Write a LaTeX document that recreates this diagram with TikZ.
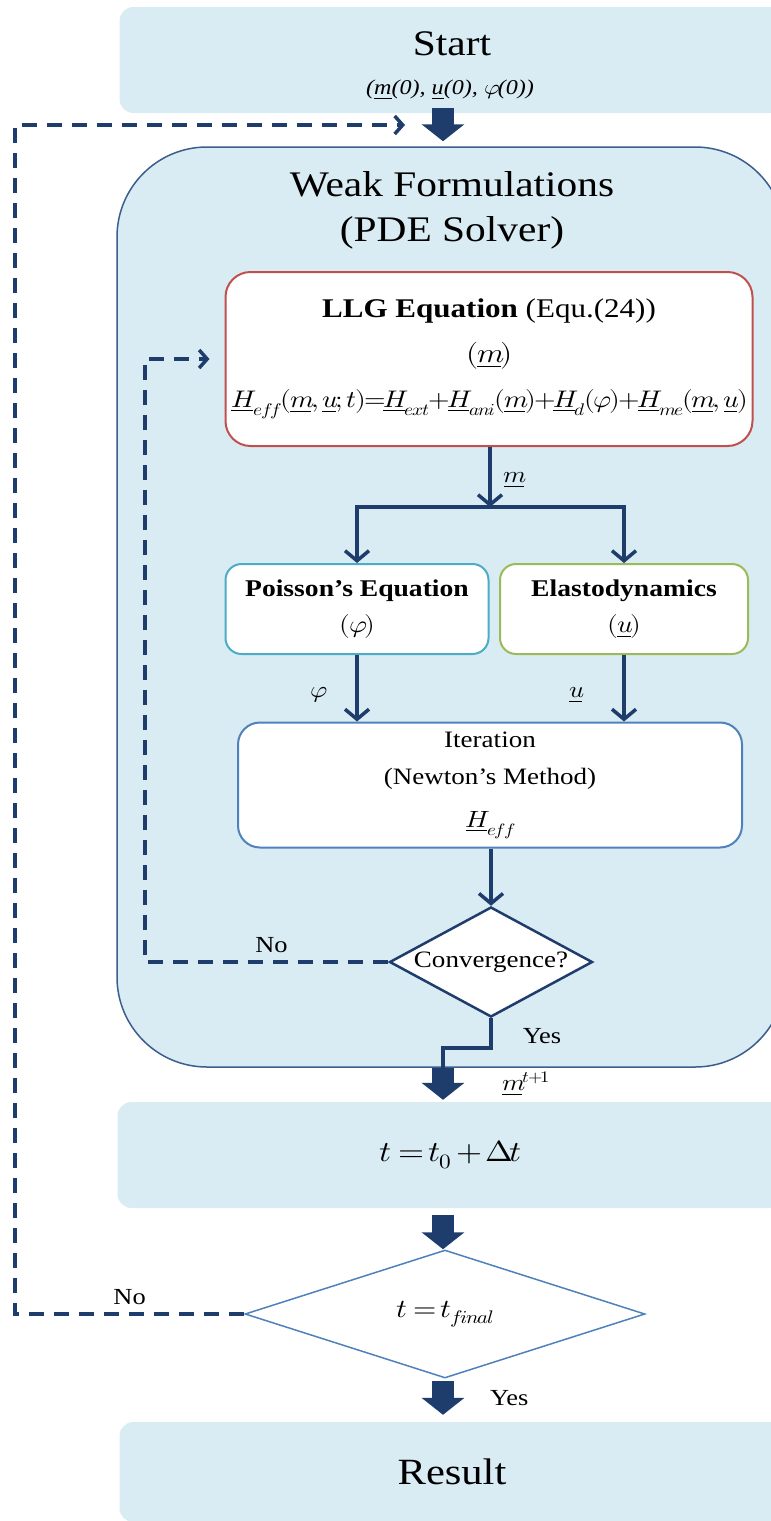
\documentclass[tikz,border=0pt]{standalone}
\usepackage{fontspec}
\usepackage{unicode-math}
\usepackage{xcolor}
\usepackage{tikz}
\usetikzlibrary{arrows.meta,shapes.geometric,positioning}
\setmainfont{Liberation Serif}[FakeStretch=1.15]
\setmathfont{latinmodern-math.otf}[FakeStretch=1.15]

\begin{document}
\begin{tikzpicture}[x=1pt, y=-1pt,
  fasebox/.style={rectangle, rounded corners=14pt, fill=colFondo, minimum width=665pt, minimum height=106pt, inner sep=0pt},
  eqbox/.style={rectangle, rounded corners=16pt, fill=white, line width=2pt, align=center, inner sep=0pt},
  decision/.style={diamond, fill=white, inner sep=0pt, font=\fontsize{23.5}{26}\selectfont},
  lbl/.style={font=\fontsize{23}{25}\selectfont, inner sep=0pt},
  bigarrow/.style={draw=colNavy, line width=22pt, -{Triangle[width=42pt,length=17pt]}},
  flow/.style={draw=colNavy, line width=3.5pt, -{Straight Barb[length=10pt,width=24pt,line width=3.5pt]}},
  flowline/.style={draw=colNavy, line width=3.5pt},
  dashline/.style={draw=colNavy, line width=3.5pt, dash pattern=on 15pt off 10pt, -{Straight Barb[length=8pt,width=18pt,line width=3.5pt]}}
]

% Colori
\definecolor{colFondo}{HTML}{DAECF3}
\definecolor{colBordo}{HTML}{3B5E8C}
\definecolor{colNavy}{HTML}{1F3D6C}
\definecolor{colRosso}{HTML}{C0504D}
\definecolor{colAzzurro}{HTML}{4BACC6}
\definecolor{colVerde}{HTML}{9BBB59}
\definecolor{colBlu}{HTML}{4F81BD}

% Area del disegno
\useasboundingbox (0,0) rectangle (771,1521);
\clip (0,0) rectangle (771,1521);
\fill[white] (0,0) rectangle (771,1521);

% Colonne delle frecce
\coordinate (colonna) at (443,0);
\coordinate (split) at (490,507);
\coordinate (yesjog) at (443,1048);
\coordinate (loopext) at (15,125);
\coordinate (loopend) at (405,125);
\coordinate (loopint) at (145,0);

% Start
\node[fasebox] (start) at (452,60) {};
\node[font=\fontsize{36}{40}\selectfont] (starttxt) at (452,44) {Start};
\node[font=\fontsize{21}{23}\selectfont\itshape] (startval) at (450,90) {(\underline{m}(0), \underline{u}(0), $\varphi$(0))};

% Weak Formulations (PDE Solver)
\node[rectangle, rounded corners=90pt, fill=colFondo, draw=colBordo, line width=1.5pt, minimum width=668pt, minimum height=920pt] (weak) at (451,607) {};
\node[font=\fontsize{36}{45}\selectfont, align=center] (weaktitle) at (452,210) {Weak Formulations\\(PDE Solver)};

% LLG
\node[eqbox, draw=colRosso, rounded corners=25pt, minimum width=527pt, minimum height=174pt, font=\fontsize{27}{45}\selectfont] (llg) at (489,359)
  {\textbf{LLG Equation} (Equ.(24))\\$(\underline{m})$\\{\fontsize{24}{45}\selectfont$\underline{H}_{eff}(\underline{m},\underline{u};t){=}\underline{H}_{ext}{+}\underline{H}_{ani}(\underline{m}){+}\underline{H}_{d}(\varphi){+}\underline{H}_{me}(\underline{m},\underline{u})$}};

% Poisson / Elastodynamics
\node[eqbox, draw=colAzzurro, minimum width=263pt, minimum height=90pt, font=\fontsize{24}{36}\selectfont] (poisson) at (357,609) {\textbf{Poisson's Equation}\\$(\varphi)$};
\node[eqbox, draw=colVerde, minimum width=248pt, minimum height=90pt, font=\fontsize{24}{36}\selectfont] (elasto) at (624,609) {\textbf{Elastodynamics}\\$(\underline{u})$};

% Iteration
\node[eqbox, draw=colBlu, rounded corners=22pt, minimum width=504pt, minimum height=125pt, font=\fontsize{23.5}{37}\selectfont] (iter) at (490,785) {Iteration\\(Newton's Method)\\[6pt]$\underline{H}_{eff}$};

% Convergence?
\node[decision, draw=colNavy, line width=2.5pt, minimum width=203pt, minimum height=110pt, aspect=1.85] (conv) at (491,962) {Convergence?};

% Passo temporale
\node[fasebox, font=\fontsize{29}{32}\selectfont] (tstep) at (450,1155) {$t = t_0 + \Delta t$};
\node[decision, draw=colBlu, line width=1.5pt, minimum width=400pt, minimum height=128pt, aspect=3.1, font=\fontsize{26}{28}\selectfont] (tfin) at (445,1314) {$t = t_{final}$};

% Result
\node[fasebox, minimum height=100pt, font=\fontsize{37}{40}\selectfont] (result) at (452,1472) {Result};

% Frecce principali
\draw[bigarrow] ([yshift=5pt]start.south -| colonna) -- ([yshift=5pt]weak.north -| colonna);
\draw[bigarrow] (colonna |- weak.south) -- node[lbl, right=48pt] (mnext) {$\underline{m}^{t+1}$} ([yshift=2pt]tstep.north -| colonna);
\draw[bigarrow] ([yshift=-7pt]tstep.south -| colonna) -- (colonna |- tfin.north);
\draw[bigarrow] ([yshift=-2pt]tfin.south -| colonna) -- node[lbl, right=36pt] (yes2) {Yes} ([yshift=7pt]result.north -| colonna);

% Frecce interne
\draw[flow] (llg.south -| split) -- node[lbl, right=12pt, pos=0.55] (lm) {$\underline{m}$} (split);
\draw[flow] (split) -| (poisson.north);
\draw[flow] (split) -| (elasto.north);
\draw[flow] (poisson.south) -- node[lbl, left=30pt, pos=0.6] (lphi) {$\varphi$} (poisson.south |- iter.north);
\draw[flow] (elasto.south) -- node[lbl, left=40pt, pos=0.6] (lu) {$\underline{u}$} (elasto.south |- iter.north);
\draw[flow] (iter.south -| conv) -- (conv.north);
\draw[flowline] (conv.south) -- node[lbl, right=30pt, pos=0.6] (yes1) {Yes} (conv.south |- yesjog) -- (yesjog) -- (yesjog |- weak.south);

% Cicli tratteggiati
\draw[dashline] (conv.west) -| node[lbl, pos=0.24, above=8pt] (noint) {No} (loopint |- llg.west) -- ([xshift=-15pt]llg.west);
\draw[dashline] (tfin.west) -| node[lbl, pos=0.25, above=8pt] (noext) {No} (loopext) -- (loopend);

\end{tikzpicture}
\end{document}
